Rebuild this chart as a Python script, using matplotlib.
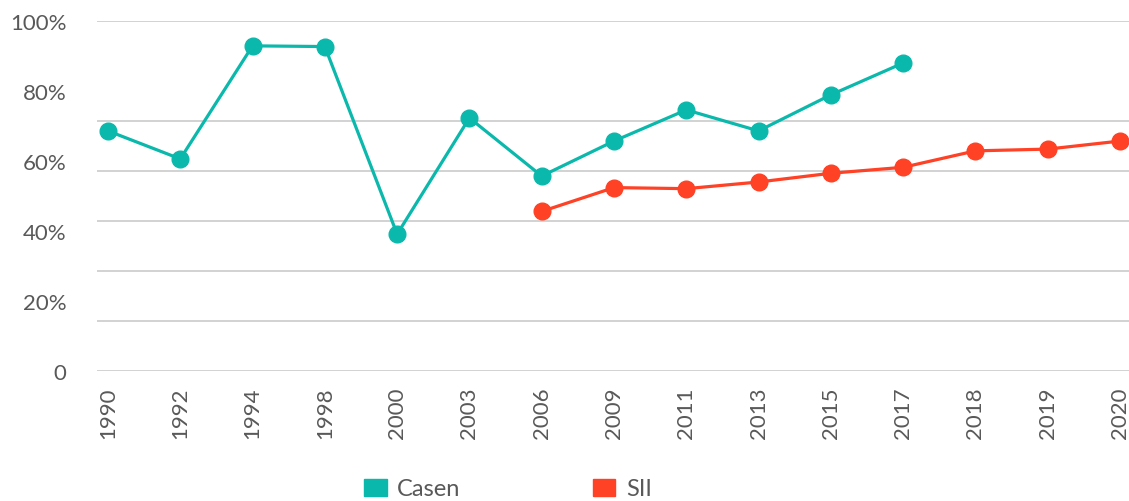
import numpy as np
import matplotlib.pyplot as plt
from matplotlib.patches import Patch

plt.rcParams['font.family'] = ['Lato', 'DejaVu Sans']

years = ["1990", "1992", "1994", "1998", "2000", "2003", "2006", "2009",
         "2011", "2013", "2015", "2017", "2018", "2019", "2020"]
casen = [68.6, 60.6, 92.9, 92.7, 39.1, 72.3, 55.7, 65.7, 74.6, 68.6, 78.9, 88.0,
         np.nan, np.nan, np.nan]
sii = [np.nan] * 6 + [45.6, 52.4, 52.1, 54.0, 56.5, 58.2, 62.9, 63.4, 65.7]
ytick_vals = [0, 20, 40, 60, 80, 100]
ytick_labels = ["0", "20%", "40%", "60%", "80%", "100%"]
grid_vals = [0, 100/7, 200/7, 300/7, 400/7, 500/7, 100]

teal = "#0BB8AC"
red = "#FF4125"
grey = "#595959"

fig = plt.figure(figsize=(11.29, 5.02), dpi=100)
ax = fig.add_axes([97/1129, 130/502, 1 - 97/1129, 350/502])

x = np.arange(len(years))
for g in grid_vals:
    ax.axhline(g, color="#CFCFCF", lw=1.3, zorder=0)

ax.plot(x, casen, color=teal, lw=2.3, marker="o", ms=12, zorder=3)
ax.plot(x, sii, color=red, lw=2.3, marker="o", ms=12, zorder=3)

ax.set_ylim(0, 100)
ax.set_xlim(-11/72.3, len(years) - 1 + 9/72.3)
ax.set_xticks(x)
ax.set_xticklabels(years, rotation=90, fontsize=16, color=grey)
ax.set_yticks(ytick_vals)
ax.set_yticklabels(ytick_labels, fontsize=16, color=grey)
ax.tick_params(axis="x", length=0, pad=11)
ax.tick_params(axis="y", length=0, pad=22)
for s in ax.spines.values():
    s.set_visible(False)

handles = [Patch(color=teal, label="Casen"), Patch(color=red, label="SII")]
leg = fig.legend(handles=handles, loc="center", bbox_to_anchor=(0.45, 0.024),
                 ncol=2, frameon=False, fontsize=17, handlelength=0.95,
                 handleheight=0.75, columnspacing=5.6, handletextpad=0.45)
for t in leg.get_texts():
    t.set_color(grey)

fig.savefig("out.png", dpi=100)
